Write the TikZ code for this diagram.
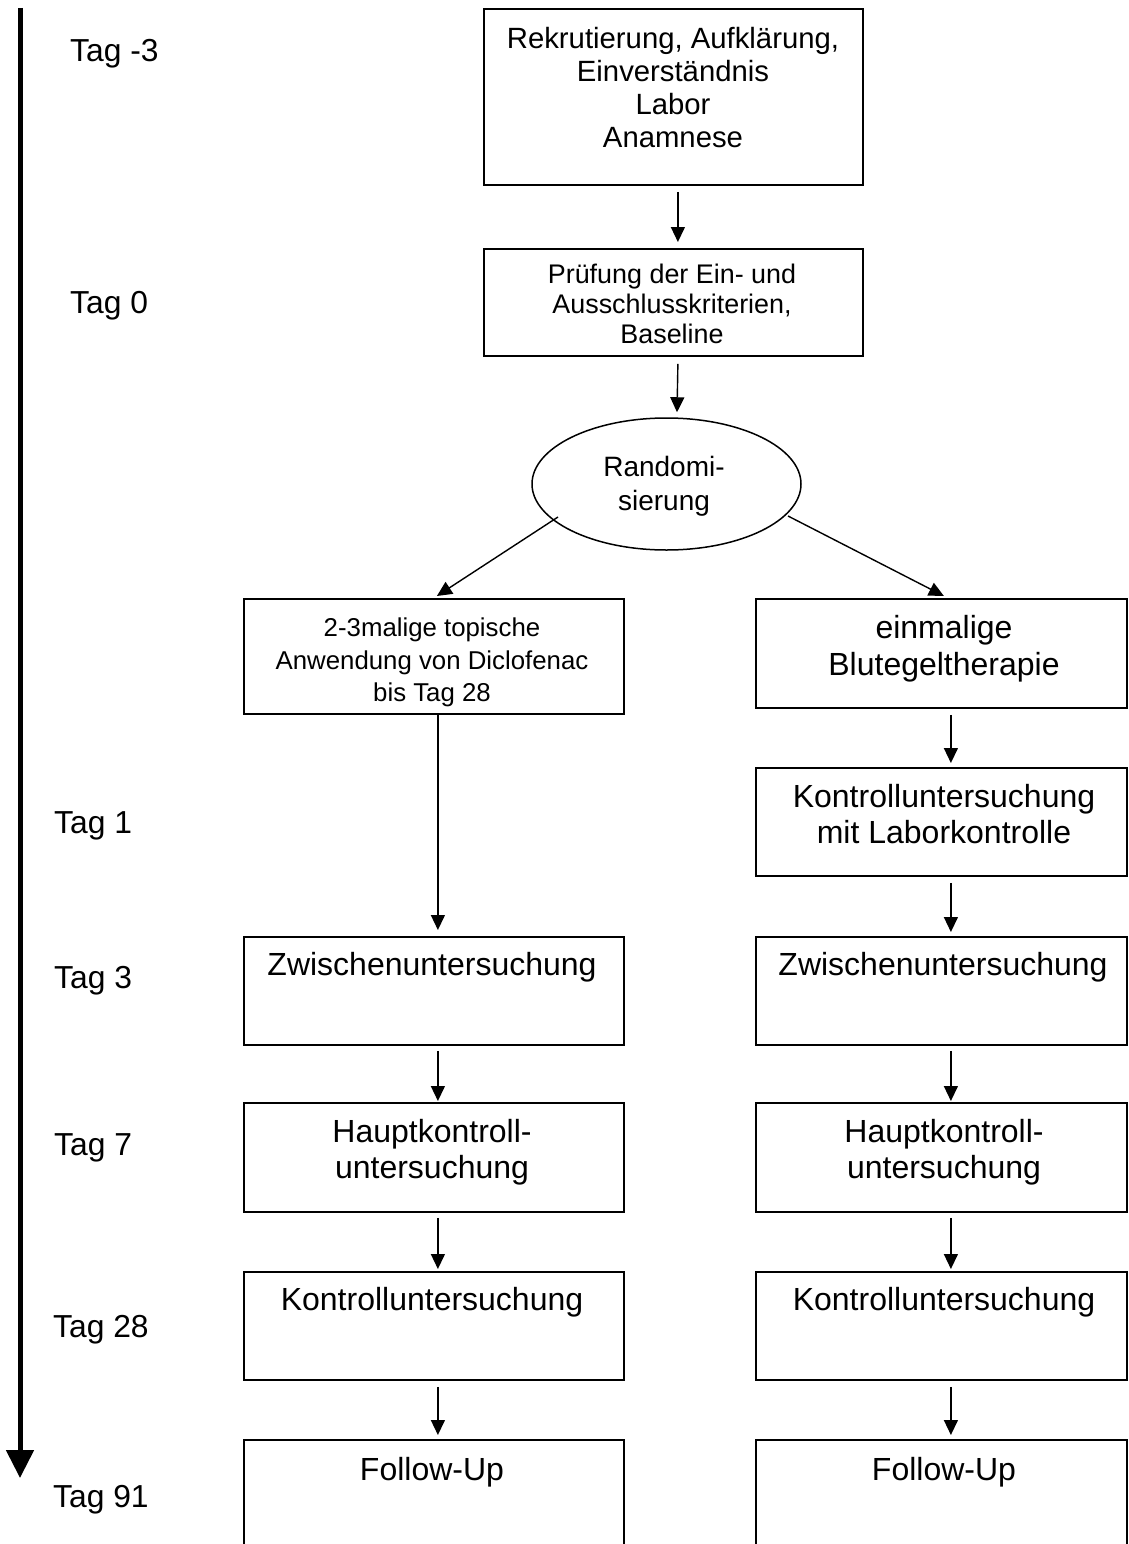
\documentclass[tikz,border=0pt]{standalone}
\usepackage{fontspec}
\setmainfont{Liberation Sans}
\usetikzlibrary{arrows.meta,shapes.geometric}
\begin{document}
\begin{tikzpicture}[x=1pt,y=-1pt,
  frame/.style 2 args={draw, line width=1.8pt, inner sep=0pt, anchor=north west,
    minimum width=#1pt, minimum height=#2pt},
  oval/.style={draw, ellipse, line width=1.5pt, inner sep=0pt},
  conn/.style={-{Triangle[length=15pt,width=14pt]}, line width=1.4pt},
  timeaxis/.style={-{Triangle[length=28pt,width=27pt]}, line width=5pt},
  tagtext/.style={anchor=base west, inner sep=0pt, font=\fontsize{31.8}{36}\selectfont},
  btxt/.style 2 args={inner sep=0pt, align=center, anchor=north, font=\fontsize{#1}{#2}\selectfont},
  stxt/.style={inner sep=0pt, anchor=base, font=\fontsize{32}{36}\selectfont}
]
\useasboundingbox (0,0) rectangle (1128,1544);
\clip (0,0) rectangle (1128,1544);

% time axis
\coordinate (axtop) at (20,8);
\coordinate (axbot) at (20,1478);
\draw[timeaxis] (axtop) -- (axbot);

% day labels
\node[tagtext] (tm3) at (70,62) {Tag -3};
\node[tagtext] (t0) at (70,313) {Tag 0};
\node[tagtext] (t1) at (54,833) {Tag 1};
\node[tagtext] (t3) at (54,988) {Tag 3};
\node[tagtext] (t7) at (54,1155) {Tag 7};
\node[tagtext] (t28) at (53,1337) {Tag 28};
\node[tagtext] (t91) at (53,1507) {Tag 91};

% boxes
\node[frame={379}{176}] (b1) at (483,8) {};
\node[frame={379}{107}] (b2) at (483,248) {};
\node[oval, minimum width=269pt, minimum height=132pt] (ell) at (666.5,484) {};
\node[frame={380}{115}] (L0) at (243,598) {};
\node[frame={371}{109}] (R0) at (755,598) {};
\node[frame={371}{108}] (R1) at (755,767) {};
\node[frame={380}{108}] (L3) at (243,936) {};
\node[frame={371}{108}] (R3) at (755,936) {};
\node[frame={380}{109}] (L7) at (243,1102) {};
\node[frame={371}{109}] (R7) at (755,1102) {};
\node[frame={380}{108}] (L28) at (243,1271) {};
\node[frame={371}{108}] (R28) at (755,1271) {};
\node[frame={380}{160}] (L91) at (243,1439) {};
\node[frame={371}{160}] (R91) at (755,1439) {};

% texts
\node[btxt={29.3}{33}] (xb1) at (673,24.9) {\strut Rekrutierung, Aufklärung,\\Einverständnis\\Labor\\Anamnese};
\node[btxt={26.9}{30}] (xb2) at (672,262) {\strut Prüfung der Ein- und\\Ausschlusskriterien,\\Baseline};
\node[btxt={28}{34}] (xell) at (664,452.2) {\strut Randomi-\\sierung};
\node[btxt={25.8}{32.5}] (xL0) at (432,613.75) {\strut 2-3malige topische\\Anwendung von Diclofenac\\bis Tag 28};
\node[btxt={32}{37}] (xR0) at (944,612.1) {\strut einmalige\\Blutegeltherapie};
\node[btxt={32}{36}] (xR1) at (944,781.8) {\strut Kontrolluntersuchung\\mit Laborkontrolle};
\node[stxt] (xL3) at (432,975) {Zwischenuntersuchung};
\node[stxt] (xR3) at (943,975) {Zwischenuntersuchung};
\node[btxt={32}{36}] (xL7) at (432,1116.8) {\strut Hauptkontroll-\\untersuchung};
\node[btxt={32}{36}] (xR7) at (944,1116.8) {\strut Hauptkontroll-\\untersuchung};
\node[stxt] (xL28) at (432,1310) {Kontrolluntersuchung};
\node[stxt] (xR28) at (944,1310) {Kontrolluntersuchung};
\node[stxt] (xL91) at (432,1480) {Follow-Up};
\node[stxt] (xR91) at (944,1480) {Follow-Up};

% connectors
\draw[conn] ([xshift=4.5pt,yshift=-6pt]b1.south) -- ([xshift=4.5pt,yshift=6pt]b2.north);
\draw[conn] ([xshift=4.5pt,yshift=-7pt]b2.south) -- ([xshift=10.5pt,yshift=5pt]ell.north);
\draw[conn] ([shift={(-108.5pt,-33pt)}]ell.center) -- ([xshift=3pt,yshift=2pt]L0.north);
\draw[conn] ([shift={(121.5pt,-32pt)}]ell.center) -- ([xshift=2.5pt,yshift=2pt]R0.north);
\draw[conn] ([xshift=4pt]L0.south) -- ([xshift=4pt,yshift=6pt]L3.north);
\draw[conn] ([xshift=9.5pt,yshift=-6pt]R0.south) -- ([xshift=9.5pt,yshift=4pt]R1.north);
\draw[conn] ([xshift=9.5pt,yshift=-6pt]R1.south) -- ([xshift=9.5pt,yshift=4pt]R3.north);
\draw[conn] ([xshift=4pt,yshift=-5pt]L3.south) -- ([xshift=4pt,yshift=1pt]L7.north);
\draw[conn] ([xshift=9.5pt,yshift=-5pt]R3.south) -- ([xshift=9.5pt,yshift=1pt]R7.north);
\draw[conn] ([xshift=4pt,yshift=-5pt]L7.south) -- ([xshift=4pt,yshift=2pt]L28.north);
\draw[conn] ([xshift=9.5pt,yshift=-5pt]R7.south) -- ([xshift=9.5pt,yshift=2pt]R28.north);
\draw[conn] ([xshift=4pt,yshift=-6pt]L28.south) -- ([xshift=4pt,yshift=4pt]L91.north);
\draw[conn] ([xshift=9.5pt,yshift=-6pt]R28.south) -- ([xshift=9.5pt,yshift=4pt]R91.north);
\end{tikzpicture}
\end{document}
